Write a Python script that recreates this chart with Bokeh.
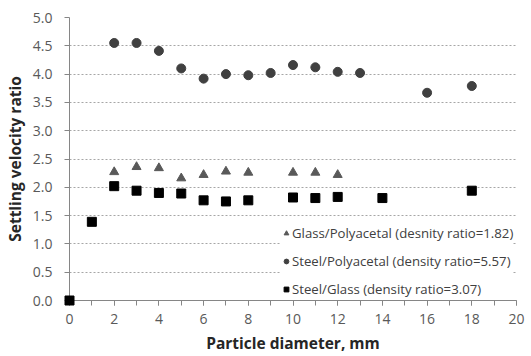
from bokeh.plotting import figure
from bokeh.models import Range1d, Legend, LegendItem, FixedTicker, CustomJSTickFormatter
from bokeh.embed import file_html
from bokeh.resources import INLINE

gp_x = [2, 3, 4, 5, 6, 7, 8, 10, 11, 12]
gp_y = [2.27, 2.36, 2.34, 2.16, 2.22, 2.28, 2.26, 2.26, 2.26, 2.22]

sp_x = [2, 3, 4, 5, 6, 7, 8, 9, 10, 11, 12, 13, 16, 18]
sp_y = [4.55, 4.55, 4.41, 4.10, 3.92, 4.00, 3.98, 4.02, 4.16, 4.12, 4.04, 4.02, 3.67, 3.79]

sg_x = [0, 1, 2, 3, 4, 5, 6, 7, 8, 10, 11, 12, 14, 18]
sg_y = [0.0, 1.39, 2.02, 1.94, 1.90, 1.89, 1.77, 1.75, 1.77, 1.82, 1.81, 1.83, 1.81, 1.94]

labels = ["Glass/Polyacetal (desnity ratio=1.82)",
          "Steel/Polyacetal (density ratio=5.57)",
          "Steel/Glass (density ratio=3.07)"]

y_ticks = [0, 0.5, 1, 1.5, 2, 2.5, 3, 3.5, 4, 4.5, 5]
x_ticks = [0, 2, 4, 6, 8, 10, 12, 14, 16, 18, 20]

FONT = "Open Sans"

p = figure(width=531, height=356, output_backend="svg", toolbar_location=None,
           x_range=Range1d(0, 20), y_range=Range1d(0, 5),
           min_border_left=68, min_border_right=15, min_border_top=17, min_border_bottom=53)
p.outline_line_color = None
p.background_fill_color = "white"

p.xgrid.visible = False
p.ygrid.grid_line_color = "#a6a6a6"
p.ygrid.grid_line_dash = "2 2"
p.ygrid.grid_line_width = 1
p.yaxis.ticker = FixedTicker(ticks=y_ticks)
p.xaxis.ticker = FixedTicker(ticks=x_ticks, minor_ticks=list(range(0, 21)))
p.yaxis.formatter = CustomJSTickFormatter(code="return tick.toFixed(1);")

for ax in (p.xaxis[0], p.yaxis[0]):
    ax.axis_line_color = "#868686"
    ax.major_tick_line_color = "#868686"
    ax.minor_tick_line_color = "#868686"
    ax.major_label_text_font = FONT
    ax.major_label_text_font_size = "14px"
    ax.major_label_text_color = "#595959"
    ax.axis_label_text_font = FONT
    ax.axis_label_text_font_size = "15.5px"
    ax.axis_label_text_font_style = "bold"
    ax.axis_label_text_color = "#262626"

p.xaxis.major_tick_out = 5
p.xaxis.major_tick_in = 0
p.xaxis.minor_tick_out = 5
p.xaxis.minor_tick_in = 0
p.yaxis.major_tick_out = 5
p.yaxis.major_tick_in = 0
p.yaxis.minor_tick_line_color = None
p.xaxis.major_label_standoff = 8
p.yaxis.major_label_standoff = 12
p.xaxis.axis_label = "Particle diameter, mm"
p.yaxis.axis_label = "Settling velocity ratio"
p.xaxis.axis_label_standoff = 5
p.yaxis.axis_label_standoff = 4

r1 = p.scatter(gp_x, gp_y, marker="triangle", size=9, color="#595959")
r2 = p.scatter(sp_x, sp_y, marker="circle", size=9, color="#404040")
r3 = p.scatter(sg_x, sg_y, marker="square", size=9, color="#000000", level="overlay")

legend = Legend(items=[LegendItem(label=labels[0], renderers=[r1]),
                       LegendItem(label=labels[1], renderers=[r2]),
                       LegendItem(label=labels[2], renderers=[r3])],
                location=(211, 2))
legend.border_line_color = None
legend.background_fill_color = "white"
legend.background_fill_alpha = 1
legend.label_text_font = FONT
legend.label_text_font_size = "13.2px"
legend.label_text_color = "#404040"
legend.glyph_width = 12
legend.glyph_height = 18
legend.label_height = 18
legend.label_standoff = 0
legend.spacing = 10
legend.padding = 4
legend.margin = 0
p.add_layout(legend)

open("out.html", "w").write(file_html(p, INLINE))
